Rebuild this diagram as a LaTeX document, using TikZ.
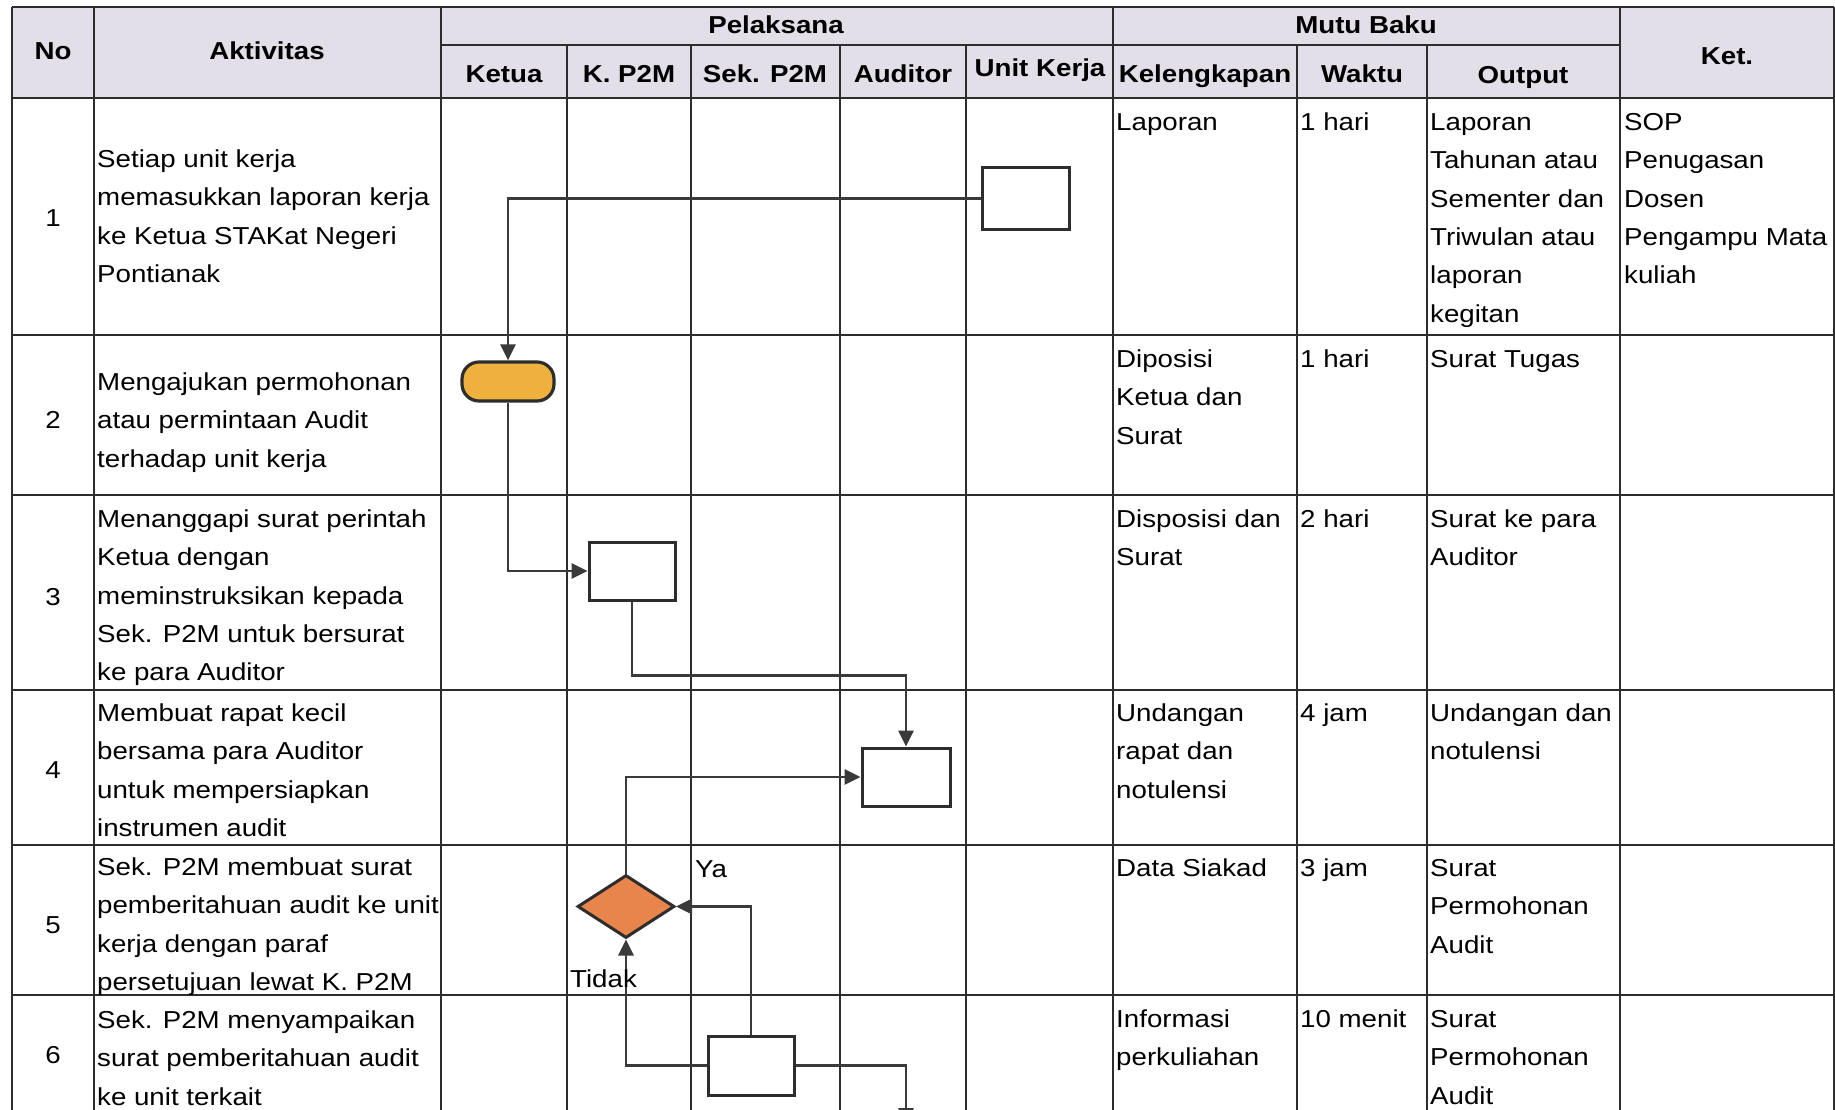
\documentclass[tikz,border=0pt]{standalone}
\usepackage{fontspec}
\setmainfont{Liberation Sans}[FakeStretch=1.13]
\usetikzlibrary{arrows.meta,shapes.geometric}
\definecolor{hdr}{RGB}{226,223,232}
\definecolor{ln}{RGB}{45,45,45}
\definecolor{cn}{RGB}{58,58,58}
\definecolor{termc}{RGB}{239,177,61}
\definecolor{diac}{RGB}{232,133,76}
\newcommand{\fs}{\strut}
\begin{document}
\begin{tikzpicture}[x=1pt,y=-1pt,
  grid/.style={draw=ln,line width=2pt},
  txt/.style={inner sep=0pt,align=left,font=\fontsize{24.5}{38.4}\selectfont,anchor=north west,yshift=26.88pt},
  lbl/.style={inner sep=0pt,font=\fontsize{24.5}{38.4}\selectfont,anchor=base west},
  hd/.style={inner sep=0pt,font=\fontsize{24.5}{30}\selectfont\bfseries,anchor=base},
  num/.style={inner sep=0pt,font=\fontsize{24.5}{30}\selectfont},
  proc/.style={draw=ln,line width=3pt,fill=white,inner sep=0pt},
  conn/.style={draw=cn,line width=2.8pt,-{Triangle[length=16pt,width=15pt]}}
]
\useasboundingbox (0,0) rectangle (1835,1110);
\fill[white] (0,0) rectangle (1835,1110);
\fill[hdr] (12,7) rectangle (1834,98);
% grid
\draw[grid] (12,7) -- (1834,7);
\draw[grid] (441,45) -- (1620,45);
\draw[grid] (12,98) -- (1834,98);
\foreach \yy in {335,495,690,845,995} \draw[grid] (12,\yy) -- (1834,\yy);
\foreach \xx in {12,94,441,1113,1620,1834} \draw[grid] (\xx,7) -- (\xx,1120);
\foreach \xx in {567,691,840,966,1297,1427} \draw[grid] (\xx,45) -- (\xx,1120);
% header
\node[hd] (hNo) at (53,60) {No};
\node[hd] (hAkt) at (267,60) {Aktivitas};
\node[hd] (hPel) at (776,34) {Pelaksana};
\node[hd] (hMB) at (1366,34) {Mutu Baku};
\node[hd] (hKet) at (1727,65) {Ket.};
\node[hd] (hKetua) at (504,83) {Ketua};
\node[hd] (hKP) at (629,83) {K. P2M};
\node[hd] (hSek) at (765,83) {Sek. P2M};
\node[hd] (hAud) at (903,83) {Auditor};
\node[hd] (hUK) at (1040,77) {Unit Kerja};
\node[hd] (hKel) at (1205,83) {Kelengkapan};
\node[hd] (hWak) at (1362,83) {Waktu};
\node[hd] (hOut) at (1523,84) {Output};
% numbers
\node[num] (n1) at (53,218) {1};
\node[num] (n2) at (53,420) {2};
\node[num] (n3) at (53,597) {3};
\node[num] (n4) at (53,770) {4};
\node[num] (n5) at (53,925) {5};
\node[num] (n6) at (53,1055) {6};
% aktivitas
\node[txt] (a1) at (97,167) {\fs Setiap unit kerja\\memasukkan laporan kerja\\ke Ketua STAKat Negeri\\Pontianak};
\node[txt] (a2) at (97,390) {\fs Mengajukan permohonan\\atau permintaan Audit\\terhadap unit kerja};
\node[txt] (a3) at (97,527) {\fs Menanggapi surat perintah\\Ketua dengan\\meminstruksikan kepada\\Sek. P2M untuk bersurat\\ke para Auditor};
\node[txt] (a4) at (97,721) {\fs Membuat rapat kecil\\bersama para Auditor\\untuk mempersiapkan\\instrumen audit};
\node[txt] (a5) at (97,875) {\fs Sek. P2M membuat surat\\pemberitahuan audit ke unit\\kerja dengan paraf\\persetujuan lewat K. P2M};
\node[txt] (a6) at (97,1028) {\fs Sek. P2M menyampaikan\\surat pemberitahuan audit\\ke unit terkait};
% mutu baku
\node[txt] (k1) at (1116,130) {\fs Laporan};
\node[txt] (w1) at (1300,130) {\fs 1 hari};
\node[txt] (o1) at (1430,130) {\fs Laporan\\Tahunan atau\\Sementer dan\\Triwulan atau\\laporan\\kegitan};
\node[txt] (t1) at (1624,130) {\fs SOP\\Penugasan\\Dosen\\Pengampu Mata\\kuliah};
\node[txt] (k2) at (1116,367) {\fs Diposisi\\Ketua dan\\Surat};
\node[txt] (w2) at (1300,367) {\fs 1 hari};
\node[txt] (o2) at (1430,367) {\fs Surat Tugas};
\node[txt] (k3) at (1116,527) {\fs Disposisi dan\\Surat};
\node[txt] (w3) at (1300,527) {\fs 2 hari};
\node[txt] (o3) at (1430,527) {\fs Surat ke para\\Auditor};
\node[txt] (k4) at (1116,721) {\fs Undangan\\rapat dan\\notulensi};
\node[txt] (w4) at (1300,721) {\fs 4 jam};
\node[txt] (o4) at (1430,721) {\fs Undangan dan\\notulensi};
\node[txt] (k5) at (1116,876) {\fs Data Siakad};
\node[txt] (w5) at (1300,876) {\fs 3 jam};
\node[txt] (o5) at (1430,876) {\fs Surat\\Permohonan\\Audit};
\node[txt] (k6) at (1116,1027) {\fs Informasi\\perkuliahan};
\node[txt] (w6) at (1300,1027) {\fs 10 menit};
\node[txt] (o6) at (1430,1027) {\fs Surat\\Permohonan\\Audit};
% flow shapes
\node[proc,minimum width=87pt,minimum height=61pt] (uk) at (1025.5,198.5) {};
\node[draw=ln,line width=3.2pt,fill=termc,rounded corners=17pt,minimum width=92pt,minimum height=39pt,inner sep=0pt] (term) at (508,381.5) {};
\node[proc,minimum width=86pt,minimum height=58pt] (kp) at (632,571) {};
\node[proc,minimum width=88pt,minimum height=58pt] (aud) at (906,777) {};
\node[diamond,draw=ln,line width=3pt,fill=diac,minimum width=97pt,minimum height=63pt,inner sep=0pt] (dia) at (626,906.5) {};
\node[proc,minimum width=86pt,minimum height=59pt] (sek) at (751,1065.5) {};
\coordinate (nxt) at (906,1124);
% connectors
\draw[conn] (uk.west) -| (term.north);
\draw[conn] (term.south) |- (kp.west);
\draw[conn] (kp.south) -- ++(0,74) -| (aud.north);
\draw[conn] (dia.north) |- (aud.west);
\draw[conn] (sek.north) |- (dia.east);
\draw[conn] (sek.west) -| (dia.south);
\draw[conn] (sek.east) -| (nxt);
% labels
\node[lbl] (ya) at (695,877) {Ya};
\node[lbl] (tidak) at (570,987) {Tidak};
\end{tikzpicture}
\end{document}
